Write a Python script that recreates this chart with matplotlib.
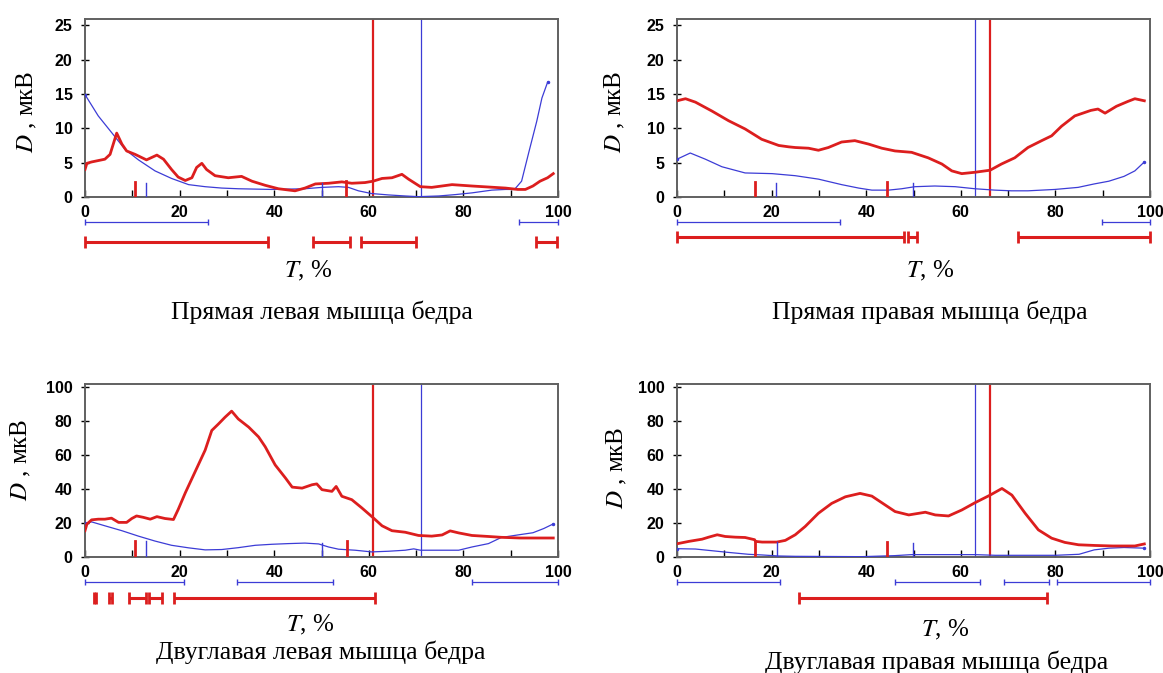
import matplotlib.pyplot as plt
from matplotlib.ticker import MultipleLocator

plt.rcParams['font.family'] = ['Liberation Serif', 'DejaVu Serif']
plt.rcParams['mathtext.fontset'] = 'stix'

RED = '#dc1e1e'
BLUE = '#3c3cd6'
FRAME = '#606060'

# Прямая левая мышца бедра
rl_red_x = [0, 0.4, 1.4, 4.2, 5.3, 6.7, 7.8, 8.8, 10.6, 13.0, 15.2, 16.6, 18.3, 19.7, 21.2, 22.6,
            23.6, 24.7, 25.7, 27.5, 30.3, 33.1, 35.3, 38.1, 40.9, 44.4, 46.5, 48.7, 51.5, 54.3,
            56.4, 59.2, 60.9, 62.8, 64.9, 67.0, 68.4, 70.9, 73.3, 77.6, 81.8, 88.9, 91.5, 93.1,
            94.7, 96.2, 97.8, 99.0]
rl_red_y = [4.0, 4.9, 5.1, 5.5, 6.2, 9.3, 7.7, 6.7, 6.2, 5.4, 6.1, 5.5, 4.0, 2.9, 2.4, 2.8,
            4.3, 4.9, 4.0, 3.1, 2.8, 3.0, 2.3, 1.7, 1.2, 0.9, 1.3, 1.9, 2.0, 2.2,
            2.0, 2.1, 2.3, 2.7, 2.8, 3.3, 2.6, 1.5, 1.4, 1.8, 1.6, 1.3, 1.1, 1.1,
            1.6, 2.3, 2.8, 3.4]
rl_blue_x = [0, 2.8, 5.6, 8.5, 11.3, 14.8, 18.3, 21.9, 25.4, 28.9, 32.4, 39.5, 46.5, 50.1, 53.6,
             55.7, 57.8, 60.6, 64.2, 67.7, 70.5, 74.8, 78.3, 81.8, 86.0, 88.9, 90.8, 92.3, 93.9,
             95.5, 96.6, 97.8]
rl_blue_y = [14.9, 11.8, 9.4, 6.9, 5.4, 3.8, 2.7, 1.8, 1.5, 1.3, 1.2, 1.1, 1.2, 1.4, 1.5,
             1.4, 0.9, 0.5, 0.3, 0.15, 0.05, 0.15, 0.35, 0.6, 1.0, 1.1, 1.1, 2.3, 6.7,
             11.0, 14.4, 16.7]
rl_red_marks = [(10.6, 2.2), (55.1, 2.3)]
rl_blue_marks = [(13.0, 2.1), (50.1, 2.1)]
rl_red_phase, rl_blue_phase = 60.9, 71.0
rl_blue_bars = [(0, 26.0), (91.7, 100)]
rl_red_bars = [(0, 38.6), (48.1, 56.1), (58.4, 70.0), (95.3, 99.8)]

# Прямая правая мышца бедра
rp_red_x = [0, 1.8, 3.9, 7.4, 10.9, 14.4, 17.9, 21.5, 23.6, 25.0, 27.8, 29.9, 32.0, 34.8, 37.6,
            40.5, 43.3, 46.1, 49.6, 53.1, 56.0, 58.1, 60.2, 63.0, 66.2, 68.6, 71.4, 74.2, 77.1,
            79.2, 81.3, 84.1, 87.5, 89.0, 90.5, 92.9, 95.3, 96.8, 98.8]
rp_red_y = [14.0, 14.3, 13.8, 12.5, 11.1, 9.9, 8.4, 7.5, 7.3, 7.2, 7.1, 6.8, 7.2, 8.0, 8.2,
            7.7, 7.1, 6.7, 6.5, 5.7, 4.8, 3.8, 3.4, 3.6, 3.9, 4.8, 5.7, 7.2, 8.2,
            8.9, 10.3, 11.8, 12.6, 12.8, 12.2, 13.2, 13.9, 14.3, 14.0]
rp_blue_x = [0, 2.8, 6.0, 9.5, 14.4, 20.1, 25.0, 29.9, 34.8, 38.4, 41.2, 44.7, 47.5, 50.3, 54.5,
             58.8, 63.0, 67.2, 70.7, 74.2, 79.9, 84.8, 88.2, 91.3, 94.5, 96.8, 98.8]
rp_blue_y = [5.5, 6.4, 5.5, 4.4, 3.5, 3.4, 3.1, 2.6, 1.8, 1.3, 1.0, 1.0, 1.2, 1.5, 1.6,
             1.5, 1.2, 1.0, 0.9, 0.9, 1.1, 1.4, 1.9, 2.3, 3.0, 3.8, 5.1]
rp_red_marks = [(16.5, 2.2), (44.4, 2.2)]
rp_blue_marks = [(21.0, 2.1), (49.8, 2.1)]
rp_red_phase, rp_blue_phase = 66.2, 63.0
rp_blue_bars = [(0, 34.5), (89.9, 100)]
rp_red_bars = [(0, 48.0), (48.9, 50.7), (72.1, 100)]

# Двуглавая левая мышца бедра
dl_red_x = [0, 0.4, 1.4, 2.8, 4.2, 5.6, 7.1, 8.8, 9.9, 10.9, 12.3, 13.8, 15.2, 16.9, 18.7, 19.7,
            21.2, 23.3, 25.4, 26.8, 28.2, 29.6, 31.0, 32.4, 34.6, 36.7, 38.1, 40.2, 42.4, 43.8,
            45.9, 48.0, 49.0, 50.1, 52.2, 53.1, 54.3, 56.4, 58.5, 60.9, 62.8, 64.9, 67.7, 70.5,
            73.3, 75.5, 77.2, 79.0, 81.8, 85.3, 88.0, 92.0, 96.0, 99.0]
dl_red_y = [15.5, 19.4, 21.9, 22.3, 22.3, 22.9, 20.4, 20.4, 22.7, 24.2, 23.4, 22.3, 23.8, 22.7, 22.1, 28.0,
            37.8, 50.4, 63.0, 74.6, 78.4, 82.4, 86.0, 81.4, 76.6, 70.8, 65.0, 54.3, 46.5, 41.2,
            40.6, 42.6, 43.1, 39.7, 38.7, 41.6, 35.8, 33.8, 29.0, 23.2, 18.4, 15.5, 14.6, 12.7,
            12.3, 13.0, 15.4, 14.2, 12.7, 12.1, 11.6, 11.2, 11.2, 11.2]
dl_blue_x = [0, 1.4, 4.2, 7.8, 11.3, 14.8, 18.3, 21.9, 25.4, 28.9, 32.4, 36.0, 39.5, 43.0, 46.5,
             49.4, 51.5, 53.6, 57.1, 60.6, 64.2, 67.7, 69.5, 70.9, 74.8, 79.0, 81.8, 85.3, 88.0,
             91.5, 94.7, 97.0, 99.0]
dl_blue_y = [19.8, 20.7, 18.4, 15.5, 12.3, 9.4, 6.9, 5.4, 4.2, 4.4, 5.5, 6.9, 7.5, 7.9, 8.2,
             7.7, 5.9, 4.6, 4.0, 3.0, 3.4, 4.0, 4.8, 4.0, 4.0, 4.0, 5.9, 7.9, 11.5,
             13.0, 14.3, 16.8, 19.5]
dl_red_marks = [(10.6, 9.5), (55.3, 9.5)]
dl_blue_marks = [(13.0, 9.5), (50.1, 8.5)]
dl_red_phase, dl_blue_phase = 60.9, 71.0
dl_blue_bars = [(0, 20.9), (32.2, 52.5), (81.8, 100)]
dl_red_bars = [(1.8, 2.3), (5.1, 5.8), (9.3, 12.8), (13.6, 16.2), (18.8, 61.4)]

# Двуглавая правая мышца бедра
dp_red_x = [0, 2.5, 5.3, 6.7, 8.5, 10.2, 12.3, 14.4, 16.4, 16.6, 18.0, 21.1, 22.9, 25.0, 27.1,
            29.9, 32.7, 35.6, 38.7, 41.2, 44.0, 46.1, 49.0, 52.5, 54.6, 57.4, 60.2, 63.0, 66.2,
            68.7, 70.8, 73.6, 76.4, 79.2, 82.0, 84.9, 88.4, 92.1, 96.8, 98.8]
dp_red_y = [7.8, 9.2, 10.5, 11.7, 13.1, 12.1, 11.7, 11.5, 10.2, 9.2, 8.8, 8.8, 9.8, 13.1, 18.0,
            25.8, 31.6, 35.5, 37.5, 35.9, 30.7, 26.8, 24.8, 26.4, 24.8, 24.2, 27.7, 32.0, 36.5,
            40.4, 36.5, 25.8, 16.0, 11.1, 8.6, 7.2, 6.8, 6.5, 6.5, 7.7]
dp_blue_x = [0, 3.9, 6.7, 10.9, 15.1, 18.0, 21.5, 25.0, 39.0, 46.0, 49.6, 63.0, 67.3, 80.0,
             85.0, 88.2, 91.3, 94.5, 98.8]
dp_blue_y = [4.9, 4.7, 3.9, 2.7, 1.6, 1.2, 0.6, 0.4, 0.2, 0.8, 1.4, 1.4, 1.0, 1.0,
             1.6, 4.2, 5.2, 5.6, 5.2]
dp_red_marks = [(16.5, 9.2), (44.4, 8.8)]
dp_blue_marks = [(21.1, 8.8), (49.8, 8.2)]
dp_red_phase, dp_blue_phase = 66.2, 63.0
dp_blue_bars = [(0, 21.8), (46.0, 64.0), (69.1, 78.7), (80.3, 100)]
dp_red_bars = [(25.7, 78.2)]

titles = ['Прямая левая мышца бедра', 'Прямая правая мышца бедра',
          'Двуглавая левая мышца бедра', 'Двуглавая правая мышца бедра']

W, H = 1163, 673


def fx(px):
    return px / W


def fy(py):
    return 1 - py / H


panels = [
    dict(box=(85, 19, 558, 197), ymax=25.9, ystep=5,
         red=(rl_red_x, rl_red_y), blue=(rl_blue_x, rl_blue_y),
         red_marks=rl_red_marks, blue_marks=rl_blue_marks,
         phases=(rl_red_phase, rl_blue_phase),
         bars=(rl_blue_bars, 221.7, rl_red_bars, 241.7),
         ylab=(27, 112), xlab=(308, 271), title=(322, 312)),
    dict(box=(677, 19, 1150, 197), ymax=25.9, ystep=5,
         red=(rp_red_x, rp_red_y), blue=(rp_blue_x, rp_blue_y),
         red_marks=rp_red_marks, blue_marks=rp_blue_marks,
         phases=(rp_red_phase, rp_blue_phase),
         bars=(rp_blue_bars, 221.7, rp_red_bars, 236.7),
         ylab=(615, 112), xlab=(930, 271), title=(930, 312)),
    dict(box=(85, 384, 558, 557), ymax=102, ystep=20,
         red=(dl_red_x, dl_red_y), blue=(dl_blue_x, dl_blue_y),
         red_marks=dl_red_marks, blue_marks=dl_blue_marks,
         phases=(dl_red_phase, dl_blue_phase),
         bars=(dl_blue_bars, 582, dl_red_bars, 598),
         ylab=(21, 460), xlab=(310, 625), title=(321, 652)),
    dict(box=(677, 384, 1150, 557), ymax=102, ystep=20,
         red=(dp_red_x, dp_red_y), blue=(dp_blue_x, dp_blue_y),
         red_marks=dp_red_marks, blue_marks=dp_blue_marks,
         phases=(dp_red_phase, dp_blue_phase),
         bars=(dp_blue_bars, 582, dp_red_bars, 598),
         ylab=(617, 468), xlab=(945, 630), title=(937, 662)),
]

fig = plt.figure(figsize=(W / 100, H / 100), dpi=100)


def range_row(ax, segs, y, color, lw, cap, mew):
    tr = ax.get_xaxis_transform()
    for a, b in segs:
        ax.plot([a, b], [y, y], color=color, lw=lw, transform=tr, clip_on=False,
                solid_capstyle='butt')
        ax.plot([a, b], [y, y], ls='none', marker='|', ms=cap, mew=mew, color=color,
                transform=tr, clip_on=False)


for p, title in zip(panels, titles):
    x0, y0, x1, y1 = p['box']
    ax = fig.add_axes([fx(x0), fy(y1), fx(x1 - x0), (y1 - y0) / H])
    ax.set_xlim(0, 100)
    ax.set_ylim(0, p['ymax'])
    for s in ax.spines.values():
        s.set_color(FRAME)
        s.set_linewidth(1.4)

    ax.xaxis.set_major_locator(MultipleLocator(20))
    ax.xaxis.set_minor_locator(MultipleLocator(10))
    ax.yaxis.set_major_locator(MultipleLocator(p['ystep']))
    ax.tick_params(axis='x', which='both', direction='in', length=5, width=1, color='black')
    ax.tick_params(axis='x', which='major', pad=6)
    ax.tick_params(axis='y', direction='inout', length=6, width=1, color='black', pad=6)
    for lab in ax.get_xticklabels() + ax.get_yticklabels():
        lab.set_fontfamily('Liberation Sans')
        lab.set_fontweight('bold')
        lab.set_fontsize(11.5)

    ax.plot(*p['blue'], color=BLUE, lw=0.9, marker='.', ms=3, markevery=[0, -1], zorder=3)
    ax.plot(*p['red'], color=RED, lw=2.0, zorder=4)

    for pos, h in p['red_marks']:
        ax.plot([pos, pos], [0, h], color=RED, lw=2.0, zorder=5)
    for pos, h in p['blue_marks']:
        ax.plot([pos, pos], [0, h], color=BLUE, lw=1.0, zorder=5)
    red_ph, blue_ph = p['phases']
    ax.axvline(red_ph, color=RED, lw=1.6, zorder=2)
    ax.axvline(blue_ph, color=BLUE, lw=0.9, zorder=2)

    blue_segs, blue_py, red_segs, red_py = p['bars']
    hgt = y1 - y0
    range_row(ax, blue_segs, -(blue_py - y1) / hgt, BLUE, 0.9, 5, 1.0)
    range_row(ax, red_segs, -(red_py - y1) / hgt, RED, 2.2, 8, 2.0)

    lx, ly = p['ylab']
    fig.text(fx(lx), fy(ly), r'$D$ , мкВ', rotation=90, ha='center', va='center', fontsize=18)
    tx, ty = p['xlab']
    fig.text(fx(tx), fy(ty), r'$T$, %', ha='center', va='center', fontsize=18)
    cx, cy = p['title']
    fig.text(fx(cx), fy(cy), title, ha='center', va='center', fontsize=18.5)

fig.savefig('out.png', dpi=100)
